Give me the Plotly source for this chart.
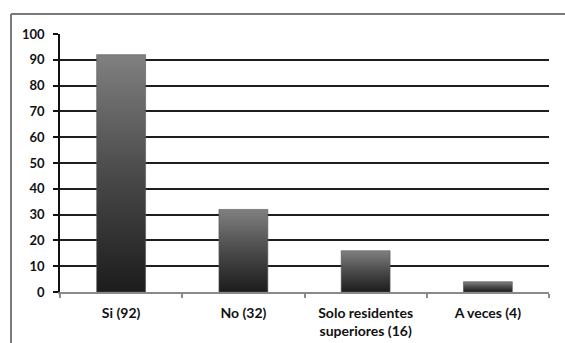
import plotly.graph_objects as go

# Survey answers and counts
categories = ["Si (92)", "No (32)", "Solo residentes<br>superiores (16)", "A veces (4)"]
values = [92, 32, 16, 4]
y_ticks = [0, 10, 20, 30, 40, 50, 60, 70, 80, 90, 100]

BAR_HALF = 0.2  # half bar width in category units
W, H = 565, 343
L, R, T, B = 60, 16, 34, 51

fig = go.Figure()

# Each bar is a filled box on the numeric x axis, shaded dark at the base to grey at the top
for i, v in enumerate(values):
    x0, x1 = i - BAR_HALF, i + BAR_HALF
    fig.add_trace(go.Scatter(
        x=[x0, x1, x1, x0, x0],
        y=[0, 0, v, v, 0],
        mode="lines",
        line=dict(width=0.6, color="#555555"),
        fill="toself",
        fillgradient=dict(type="vertical",
                          colorscale=[[0, "#1c1c1c"], [0.5, "#4a4a4a"], [1, "#808080"]]),
        hoverinfo="skip",
        showlegend=False,
    ))

ytick_font = dict(family="Lato, Open Sans, sans-serif", size=13, color="#111111", weight="bold")
xtick_font = dict(family="Lato, Open Sans, sans-serif", size=14, color="#111111", weight="bold")

fig.update_layout(
    width=W, height=H,
    margin=dict(l=L, r=R, t=T, b=B),
    paper_bgcolor="white",
    plot_bgcolor="white",
    showlegend=False,
    xaxis=dict(
        range=[-0.5, len(values) - 0.5],
        tickvals=list(range(len(categories))),
        ticktext=categories,
        tickfont=xtick_font,
        ticks="",
        showgrid=False,
        zeroline=False,
        showline=True,
        linecolor="#8a8a8a",
        linewidth=2,
        ticklabelstandoff=7,
        automargin=False,
        minor=dict(
            tickvals=[k - 0.5 for k in range(len(categories) + 1)],
            ticks="outside", ticklen=4, tickcolor="#8a8a8a", tickwidth=1.5,
            showgrid=False,
        ),
        fixedrange=True,
    ),
    yaxis=dict(
        range=[0, 100],
        tickvals=y_ticks,
        tickfont=ytick_font,
        ticks="outside",
        ticklen=5,
        tickcolor="#111111",
        tickwidth=1.5,
        showgrid=True,
        gridcolor="#1e1e1e",
        gridwidth=1.5,
        zeroline=False,
        showline=True,
        linecolor="#111111",
        linewidth=1.5,
        ticklabelstandoff=6,
        automargin=False,
        fixedrange=True,
    ),
)

# Outer frame: top and left edges of the chart box
pw, ph = W - L - R, H - T - B
fx0 = (11 - L) / pw
fy_top = (H - B - 14) / ph
fx_right = (W - L) / pw
fy_bottom = (H - B - H) / ph
fig.add_shape(type="line", xref="paper", yref="paper",
              x0=fx0, y0=fy_top, x1=fx_right, y1=fy_top,
              line=dict(color="#7a7a7a", width=2))
fig.add_shape(type="line", xref="paper", yref="paper",
              x0=fx0, y0=fy_top, x1=fx0, y1=fy_bottom,
              line=dict(color="#7a7a7a", width=2))

fig.write_html("out.html")
